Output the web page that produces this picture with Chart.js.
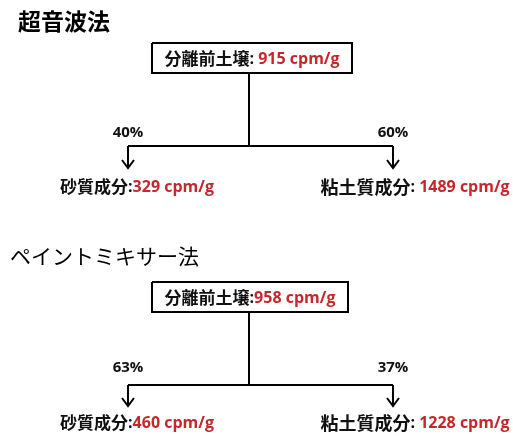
<!DOCTYPE html>
<html>
<head>
<meta charset="utf-8">
<script src="https://cdn.jsdelivr.net/npm/chart.js@4"></script>
<style>
  body { margin: 0; background: #fff; }
  #wrap { width: 513px; height: 436px; }
</style>
</head>
<body>
<div id="wrap"><canvas id="flow"></canvas></div>
<script>
// values
const methods = ["超音波法", "ペイントミキサー法"];
const beforeCpm = [915, 958];
const sandCpm = [329, 460];
const clayCpm = [1489, 1228];
const sandPct = [40, 63];
const clayPct = [60, 37];

const beforeLabel = "分離前土壌";
const sandLabel = "砂質成分";
const clayLabel = "粘土質成分";

// layout (chart units = pixels of a 513 x 436 page)
const titleX = [18, 10];
const titleY = [21, 256];
const boxLeft = [152, 152];
const boxRight = [352, 348];
const boxTop = [43, 282];
const boxBottom = [73, 312];
const stemX = 249;
const leftX = 128;
const rightX = 393;
const branchY = [146, 385];
const arrowY = [168, 406];
const pctY = [133, 368];
const labelY = [187, 423];

const RED = "#c4282c";
const JP = 'bold 17px "Noto Sans CJK JP"';
const NUM = 'bold 16px "Open Sans"';

function seg(points) {
  return {
    data: points.map(p => ({ x: p[0], y: p[1] })),
    showLine: true,
    borderColor: "#000",
    borderWidth: 2,
    pointRadius: 0,
    fill: false,
    tension: 0
  };
}

const datasets = [];
methods.forEach((m, i) => {
  datasets.push(seg([[boxLeft[i], boxTop[i]], [boxRight[i], boxTop[i]], [boxRight[i], boxBottom[i]],
                     [boxLeft[i], boxBottom[i]], [boxLeft[i], boxTop[i]]]));
  datasets.push(seg([[stemX, boxBottom[i]], [stemX, branchY[i]]]));
  datasets.push(seg([[leftX, branchY[i]], [rightX, branchY[i]]]));
  datasets.push(seg([[leftX, branchY[i]], [leftX, arrowY[i]]]));
  datasets.push(seg([[rightX, branchY[i]], [rightX, arrowY[i]]]));
});

function drawParts(ctx, parts, cx, cy, align) {
  let total = 0;
  parts.forEach(p => { ctx.font = p.font; p.w = ctx.measureText(p.text).width; total += p.w; });
  let x = align === "left" ? cx : cx - total / 2;
  ctx.textBaseline = "middle";
  ctx.textAlign = "left";
  parts.forEach(p => {
    ctx.font = p.font;
    ctx.fillStyle = p.color;
    ctx.fillText(p.text, x, cy);
    x += p.w;
  });
}

const textPlugin = {
  id: "flowText",
  afterDatasetsDraw(chart) {
    const ctx = chart.ctx;
    const sx = chart.scales.x, sy = chart.scales.y;
    const X = v => sx.getPixelForValue(v);
    const Y = v => sy.getPixelForValue(v);
    ctx.save();
    methods.forEach((m, i) => {
      // arrow heads
      ctx.strokeStyle = "#000";
      ctx.lineWidth = 2;
      [leftX, rightX].forEach(ax => {
        ctx.beginPath();
        ctx.moveTo(X(ax - 6), Y(arrowY[i] - 8));
        ctx.lineTo(X(ax), Y(arrowY[i]));
        ctx.lineTo(X(ax + 6), Y(arrowY[i] - 8));
        ctx.stroke();
      });

      // titles
      drawParts(ctx, [{ text: m, font: (i === 0 ? 'bold 23px' : '21px') + ' "Noto Sans CJK JP"', color: "#000" }],
        X(titleX[i]), Y(titleY[i]), "left");

      // box text
      drawParts(ctx, [
        { text: beforeLabel, font: JP, color: "#111" },
        { text: i === 0 ? ": " : ":", font: NUM, color: "#111" },
        { text: beforeCpm[i] + " cpm/g", font: NUM, color: RED }
      ], X((boxLeft[i] + boxRight[i]) / 2), Y((boxTop[i] + boxBottom[i]) / 2 + 1));

      // percentages
      const pf = 'bold 15px "Open Sans"';
      drawParts(ctx, [{ text: sandPct[i] + "%", font: pf, color: "#111" }], X(leftX), Y(pctY[i]));
      drawParts(ctx, [{ text: clayPct[i] + "%", font: pf, color: "#111" }], X(rightX), Y(pctY[i]));

      // fractions
      drawParts(ctx, [
        { text: sandLabel, font: JP, color: "#111" },
        { text: ":", font: NUM, color: "#111" },
        { text: sandCpm[i] + " cpm/g", font: NUM, color: RED }
      ], X(137), Y(labelY[i]));
      drawParts(ctx, [
        { text: clayLabel, font: 'bold 18px "Noto Sans CJK JP"', color: "#111" },
        { text: ": ", font: NUM, color: "#111" },
        { text: clayCpm[i] + " cpm/g", font: NUM, color: RED }
      ], X(415), Y(labelY[i]));
    });
    ctx.restore();
  }
};

new Chart(document.getElementById("flow").getContext("2d"), {
  type: "scatter",
  data: { datasets: datasets },
  options: {
    responsive: true,
    maintainAspectRatio: false,
    animation: false,
    layout: { padding: 0 },
    plugins: { legend: { display: false }, tooltip: { enabled: false } },
    scales: {
      x: { type: "linear", min: 0, max: 513, display: false },
      y: { type: "linear", min: 0, max: 436, reverse: true, display: false }
    }
  },
  plugins: [textPlugin]
});
</script>
</body>
</html>
